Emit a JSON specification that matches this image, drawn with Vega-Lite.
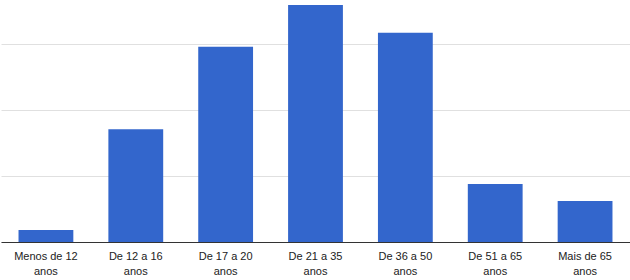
{
  "$schema": "https://vega.github.io/schema/vega-lite/v6.json",
  "width": 629,
  "height": 242,
  "autosize": {"type": "none"},
  "padding": {"left": 1, "top": 0, "right": 0, "bottom": 38},
  "background": "#ffffff",
  "config": {"view": {"stroke": null}},
  "data": {
    "values": [
      {"faixa": "Menos de 12 anos", "valor": 1.8},
      {"faixa": "De 12 a 16 anos", "valor": 17.1},
      {"faixa": "De 17 a 20 anos", "valor": 29.6},
      {"faixa": "De 21 a 35 anos", "valor": 35.9},
      {"faixa": "De 36 a 50 anos", "valor": 31.7},
      {"faixa": "De 51 a 65 anos", "valor": 8.8},
      {"faixa": "Mais de 65 anos", "valor": 6.2}
    ]
  },
  "mark": {"type": "bar", "color": "#3366cc"},
  "encoding": {
    "x": {
      "field": "faixa",
      "type": "nominal",
      "sort": null,
      "scale": {"paddingInner": 0.39, "paddingOuter": 0.195},
      "axis": {
        "title": null,
        "labelAngle": 0,
        "ticks": false,
        "domainColor": "#333333",
        "domainWidth": 1,
        "labelFont": "Liberation Sans",
        "labelFontSize": 11,
        "labelColor": "#222222",
        "labelPadding": 8,
        "labelLineHeight": 15,
        "labelExpr": "[replace(datum.label, ' anos', ''), 'anos']"
      }
    },
    "y": {
      "field": "valor",
      "type": "quantitative",
      "scale": {"domain": [0, 36.67], "nice": false},
      "axis": {
        "title": null,
        "labels": false,
        "ticks": false,
        "domain": false,
        "values": [0, 10, 20, 30],
        "gridColor": "#e0e0e0",
        "gridWidth": 1
      }
    }
  }
}
